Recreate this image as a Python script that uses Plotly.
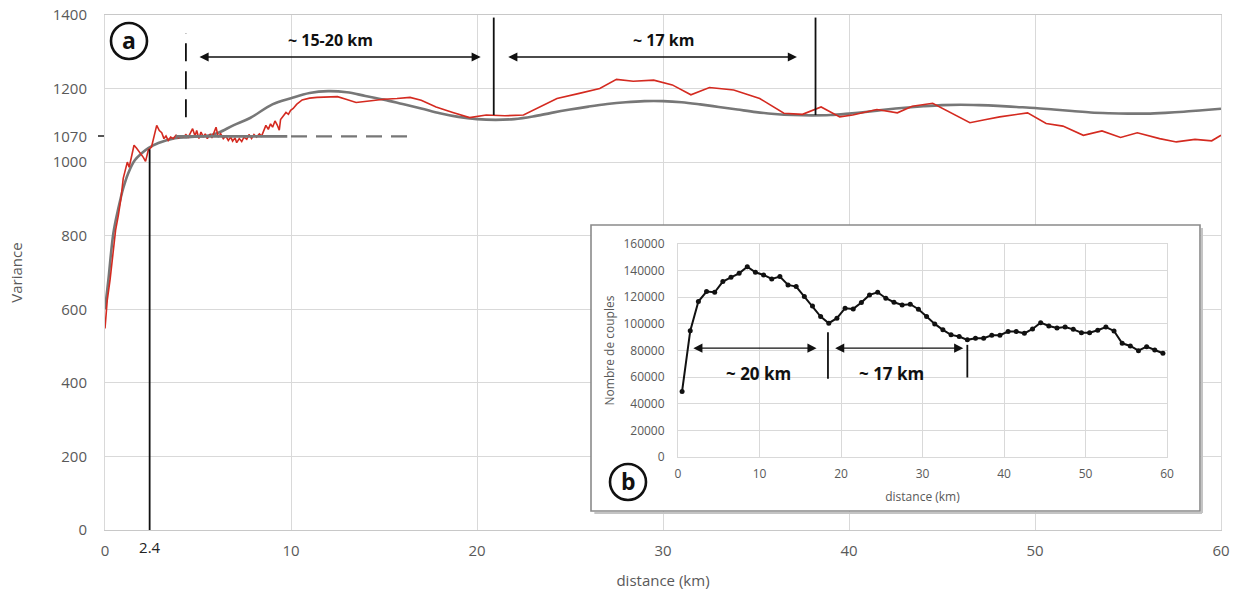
import plotly.graph_objects as go

# --- (a) experimental variogram (red) and fitted model (grey) -------------
dist_red = [0, 0.12, 0.27, 0.45, 0.57, 0.72, 0.86, 0.98, 1.08, 1.2, 1.3, 1.43, 1.56, 1.7,
            1.88, 2.06, 2.18, 2.33, 2.5, 2.62, 2.78, 2.92, 3.05, 3.17, 3.28, 3.4, 3.53,
            3.67, 3.82, 3.94, 4.09, 4.21, 4.35, 4.48, 4.61, 4.71, 4.84, 4.93, 5.05, 5.16,
            5.29, 5.39, 5.5, 5.65, 5.75, 5.86, 5.97, 6.09, 6.22, 6.36, 6.5, 6.63, 6.76,
            6.86, 6.99, 7.08, 7.22, 7.35, 7.47, 7.62, 7.74, 7.88, 8.01, 8.15, 8.3, 8.42,
            8.55, 8.65, 8.78, 8.9, 9.01, 9.14, 9.26, 9.37, 9.44, 9.59, 9.73, 9.86, 9.98,
            10.12, 10.3, 10.6, 11.0, 11.4, 12.0, 12.5, 13.0, 13.5, 14.2, 15.0, 15.7, 16.4,
            17.0, 17.8, 18.7, 19.6, 20.5, 21.5, 22.5, 23.4, 24.3, 25.5, 26.6, 27.5, 28.4,
            29.5, 30.5, 31.5, 32.5, 33.8, 35.2, 36.5, 37.5, 38.5, 39.5, 40.2, 41.5, 42.6,
            43.4, 44.5, 45.5, 46.5, 47.3, 48.1, 49.6, 50.6, 51.5, 52.6, 53.6, 54.6, 55.5,
            56.7, 57.6, 58.6, 59.5, 60]
var_red = [548, 624, 679, 752, 815, 856, 902, 956, 978, 1000, 986, 1013, 1046, 1038,
           1027, 1013, 1002, 1033, 1041, 1066, 1100, 1086, 1080, 1064, 1071, 1059, 1068,
           1064, 1073, 1066, 1071, 1068, 1075, 1068, 1082, 1091, 1071, 1086, 1064, 1082,
           1068, 1077, 1064, 1075, 1066, 1082, 1095, 1068, 1077, 1064, 1071, 1059, 1068,
           1057, 1066, 1053, 1064, 1056, 1068, 1062, 1075, 1064, 1075, 1068, 1077, 1071,
           1091, 1100, 1089, 1104, 1095, 1112, 1101, 1087, 1116, 1126, 1135, 1130, 1141,
           1146, 1157, 1169, 1174, 1176, 1177, 1178, 1170, 1162, 1166, 1171, 1173, 1176,
           1168, 1150, 1135, 1121, 1128, 1126, 1128, 1150, 1173, 1187, 1200, 1225, 1220,
           1223, 1210, 1183, 1203, 1196, 1173, 1133, 1130, 1150, 1123, 1128, 1143, 1134,
           1152, 1160, 1133, 1107, 1115, 1123, 1134, 1105, 1098, 1073, 1085, 1067, 1080,
           1064, 1055, 1062, 1058, 1073]

dist_model = [0, 0.18, 0.45, 0.72, 0.98, 1.25, 1.6, 1.97, 2.33, 2.87, 3.76, 4.5, 5.5, 6.1,
              6.9, 7.8, 9.0, 10, 11, 12, 13, 14, 15, 16, 17, 18, 19, 20, 21, 22, 23, 24,
              25, 26, 27, 28, 29, 30, 31, 32, 33, 34, 35, 36, 37, 38, 39, 40, 41, 42, 43,
              44, 45, 46, 47, 48, 49, 50, 51, 52, 53, 54, 55, 56, 57, 58, 59, 60]
var_model = [600, 679, 807, 875, 929, 970, 1005, 1024, 1038, 1052, 1065, 1068, 1072, 1080,
             1100, 1120, 1157, 1174, 1188, 1193, 1190, 1180, 1170, 1158, 1146, 1133, 1123,
             1117, 1115, 1117, 1124, 1134, 1143, 1151, 1158, 1163, 1166, 1166, 1163, 1157,
             1150, 1143, 1136, 1131, 1128, 1127, 1128, 1132, 1137, 1143, 1148, 1152, 1155,
             1156, 1155, 1153, 1150, 1147, 1143, 1139, 1135, 1133, 1132, 1132, 1134, 1137,
             1141, 1145]

sill = 1070
sill_solid_x = [3.8, 9.8]
sill_dash_x = [10.0, 16.7]
range_a = 2.4
range_top = 1035

x_ticks_a = [0, 10, 20, 30, 40, 50, 60]
y_ticks_a = [0, 200, 400, 600, 800, 1000, 1200, 1400]

# --- (b) number of pairs per lag -------------------------------------------
dist_b = [0.5, 1.5, 2.5, 3.5, 4.5, 5.5, 6.5, 7.5, 8.5, 9.5, 10.5, 11.5, 12.5, 13.5, 14.5,
          15.5, 16.5, 17.5, 18.5, 19.5, 20.5, 21.5, 22.5, 23.5, 24.5, 25.5, 26.5, 27.5,
          28.5, 29.5, 30.5, 31.5, 32.5, 33.5, 34.5, 35.5, 36.5, 37.5, 38.5, 39.5, 40.5,
          41.5, 42.5, 43.5, 44.5, 45.5, 46.5, 47.5, 48.5, 49.5, 50.5, 51.5, 52.5, 53.5,
          54.5, 55.5, 56.5, 57.5, 58.5, 59.5]
pairs_b = [49250, 94750, 116750, 124250, 123750, 131750, 135000, 138000, 143000, 138750,
           136750, 133750, 135500, 129250, 128000, 120500, 113500, 105500, 100500, 104250,
           111750, 111250, 116000, 121750, 123750, 119250, 116250, 114250, 114750, 111000,
           105500, 100000, 95500, 91750, 90500, 88000, 89250, 89250, 91500, 91500, 94200,
           94200, 92900, 96200, 100900, 98400, 96900, 97600, 95900, 93400, 93400, 95200,
           97600, 94700, 85400, 83400, 79900, 82900, 80400, 77900]

x_ticks_b = [0, 10, 20, 30, 40, 50, 60]
y_ticks_b = [0, 20000, 40000, 60000, 80000, 100000, 120000, 140000, 160000]

# --- style -----------------------------------------------------------------
FONT = "Open Sans"
TICK = "#595959"
GRID = "#d9d9d9"
RED = "#d42a20"
GREY = "#777777"
INK = "#111111"

W, H = 1240, 593
ML, MR, MT, MB = 105, 19, 15, 63
PW, PH = W - ML - MR, H - MT - MB


def px(x):
    return (x - ML) / PW


def py(y):
    return (H - MB - y) / PH


fig = go.Figure()

fig.add_trace(go.Scatter(x=dist_model, y=var_model, mode="lines",
                         line=dict(color=GREY, width=2.6, shape="spline")))
fig.add_trace(go.Scatter(x=sill_solid_x, y=[sill, sill], yaxis="y2", mode="lines",
                         line=dict(color=GREY, width=2.6)))
fig.add_trace(go.Scatter(x=sill_dash_x, y=[sill, sill], mode="lines",
                         line=dict(color=GREY, width=2.2, dash="16px,9px")))
fig.add_trace(go.Scatter(x=dist_red, y=var_red, mode="lines",
                         line=dict(color=RED, width=1.6)))
fig.add_trace(go.Scatter(x=[range_a, range_a], y=[0, range_top], xaxis="x2", mode="lines",
                         line=dict(color=INK, width=1.8)))

# empty subplot used as the white card behind the inset
fig.add_trace(go.Scatter(x=[None], y=[None], xaxis="x3", yaxis="y3", mode="lines"))

fig.add_trace(go.Scatter(x=dist_b, y=pairs_b, xaxis="x4", yaxis="y4", mode="lines+markers",
                         line=dict(color=INK, width=2), marker=dict(color=INK, size=5)))

ax_common = dict(showgrid=True, gridcolor=GRID, gridwidth=1, zeroline=False,
                 showline=True, linecolor=GRID, linewidth=1, mirror=True, ticks="")

box = dict(x0=px(591), x1=px(1200), y0=py(511), y1=py(225))

fig.update_layout(
    width=W, height=H, template="none",
    paper_bgcolor="white", plot_bgcolor="white", showlegend=False,
    margin=dict(l=ML, r=MR, t=MT, b=MB),
    font=dict(family=FONT, color=TICK, size=15),
    xaxis=dict(ax_common, range=[0, 60], tickvals=x_ticks_a, linecolor="#c8c8c8",
               ticklabelstandoff=7, tickfont=dict(size=15, color=TICK),
               title=dict(text="distance (km)", font=dict(size=15, color=TICK), standoff=16)),
    xaxis2=dict(range=[0, 60], overlaying="x", anchor="y", side="bottom", showgrid=False,
                zeroline=False, tickvals=[range_a], ticktext=[str(range_a)],
                ticklabelstandoff=7, tickfont=dict(size=15, color="#222222")),
    yaxis=dict(ax_common, range=[0, 1400], tickvals=y_ticks_a, ticklabelstandoff=14,
               tickfont=dict(size=15, color=TICK),
               title=dict(text="Variance", font=dict(size=15, color=TICK), standoff=26)),
    yaxis2=dict(range=[0, 1400], overlaying="y", anchor="x", side="left", showgrid=False,
                zeroline=False, tickvals=[sill], ticktext=[str(sill)], ticks="outside",
                ticklen=6, tickcolor="#555555", tickwidth=1.5, ticklabelstandoff=8,
                tickfont=dict(size=15, color=TICK)),
    xaxis3=dict(domain=[box["x0"], box["x1"]], anchor="y3", range=[0, 1], visible=False),
    yaxis3=dict(domain=[box["y0"], box["y1"]], anchor="x3", range=[0, 1], visible=False),
    xaxis4=dict(ax_common, domain=[px(678), px(1167)], anchor="y4", range=[0, 60],
                tickvals=x_ticks_b, ticklabelstandoff=6, tickfont=dict(size=12, color=TICK),
                title=dict(text="distance (km)", font=dict(size=12, color=TICK), standoff=11)),
    yaxis4=dict(ax_common, domain=[py(457), py(244)], anchor="x4", range=[0, 160000],
                tickvals=y_ticks_b, tickformat="d", ticklabelstandoff=10,
                tickfont=dict(size=12, color=TICK),
                title=dict(text="Nombre de couples", font=dict(size=12, color=TICK), standoff=6)),
)

# inset card border with a soft shadow on the right and bottom
sh_x = px(107) - px(105)
fig.add_shape(type="line", xref="paper", yref="paper", x0=box["x1"] + sh_x,
              x1=box["x1"] + sh_x, y0=box["y0"] - 0.004, y1=box["y1"] - 0.006,
              line=dict(color="#c4c4c4", width=2))
fig.add_shape(type="line", xref="paper", yref="paper", x0=box["x0"] + 0.003,
              x1=box["x1"] + sh_x, y0=box["y0"] - 0.004, y1=box["y0"] - 0.004,
              line=dict(color="#c4c4c4", width=2))
fig.add_shape(type="rect", xref="paper", yref="paper", **box,
              line=dict(color="#8a8a8a", width=1.6))

# range markers on the main panel
for xv, y0, y1, dash in [(4.35, 1122, 1351, "18px,10px"), (20.9, 1128, 1393, None),
                         (38.2, 1128, 1393, None)]:
    fig.add_shape(type="line", xref="x", yref="y", x0=xv, x1=xv, y0=y0, y1=y1,
                  line=dict(color=INK, width=1.8, dash=dash))

for xv, y0, y1 in [(18.4, 58750, 93750), (35.5, 59750, 84250)]:
    fig.add_shape(type="line", xref="x4", yref="y4", x0=xv, x1=xv, y0=y0, y1=y1,
                  line=dict(color=INK, width=1.8))


def double_arrow(x0, x1, y, xr, yr):
    fig.add_annotation(x=x1, y=y, ax=x0, ay=y, xref=xr, yref=yr, axref=xr, ayref=yr,
                       text="", showarrow=True, arrowside="end+start", arrowhead=2,
                       startarrowhead=2, arrowsize=1.3, startarrowsize=1.3,
                       arrowwidth=1.4, arrowcolor=INK, standoff=0, startstandoff=0)


double_arrow(5.0, 20.2, 1286, "x", "y")
double_arrow(21.6, 37.2, 1286, "x", "y")
double_arrow(1.7, 17.0, 81750, "x4", "y4")
double_arrow(19.1, 35.0, 81750, "x4", "y4")

for text, xv, yv, xr, yr, size in [("~ 15-20 km", 12.1, 1332, "x", "y", 16),
                                    ("~ 17 km", 30.0, 1332, "x", "y", 16),
                                    ("~ 20 km", 9.9, 62500, "x4", "y4", 17),
                                    ("~ 17 km", 26.2, 62500, "x4", "y4", 17)]:
    fig.add_annotation(x=xv, y=yv, xref=xr, yref=yr, text=f"<b>{text}</b>", showarrow=False,
                       font=dict(family=FONT, size=size, color=INK))

# panel letters
for letter, cx, cy in [("a", px(129), py(41)), ("b", px(628), py(482))]:
    fig.add_shape(type="circle", xref="paper", yref="paper", xsizemode="pixel",
                  ysizemode="pixel", xanchor=cx, yanchor=cy, x0=-18, x1=18, y0=-18, y1=18,
                  fillcolor="white", line=dict(color=INK, width=2.6))
    fig.add_annotation(x=cx, y=cy, xref="paper", yref="paper", text=f"<b>{letter}</b>",
                       showarrow=False, xanchor="center", yanchor="middle", yshift=1,
                       font=dict(family=FONT, size=23, color=INK))

# the page body has a default 8px margin; drop it so the figure sits at the origin
fig.write_html("out.html", config={"displayModeBar": False},
               post_script="document.body.style.margin='0px';")
